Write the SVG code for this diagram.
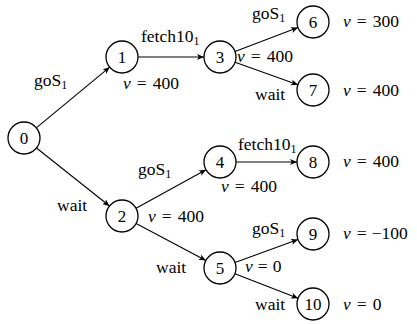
<svg xmlns="http://www.w3.org/2000/svg" width="417" height="324" viewBox="0 0 417 324">
  <style>
    .node circle { fill: #fff; stroke: #000; stroke-width: 1.3; }
    .edges line { stroke: #000; stroke-width: 1.1; marker-end: url(#tip); }
  </style>
  <defs>
    <marker id="tip" markerUnits="userSpaceOnUse" markerWidth="9" markerHeight="8" refX="7" refY="3.5" orient="auto">
      <path d="M0,0.5 L7,3.5 L0,6.5 L1.8,3.5 Z" fill="#000"/>
    </marker>
  </defs>

  <!-- transitions between states -->
  <g class="edges">
    <line x1="36.3" y1="127.8" x2="109.7" y2="67.2"/>
    <line x1="36.5" y1="148.0" x2="109.5" y2="206.0"/>
    <line x1="138" y1="57" x2="204" y2="57"/>
    <line x1="235.0" y1="51.4" x2="298.0" y2="27.6"/>
    <line x1="235.1" y1="62.3" x2="297.9" y2="84.7"/>
    <line x1="136.0" y1="208.3" x2="206.0" y2="169.7"/>
    <line x1="136.1" y1="223.5" x2="205.9" y2="260.5"/>
    <line x1="236" y1="162" x2="297" y2="162"/>
    <line x1="235.0" y1="262.5" x2="298.0" y2="239.5"/>
    <line x1="234.9" y1="273.8" x2="298.1" y2="298.2"/>
  </g>

  <!-- states -->
  <g id="n0" class="node"><circle cx="24" cy="138" r="16"/><text x="24" y="143.5" font-family="Liberation Serif" font-size="17" text-anchor="middle">0</text></g>
  <g id="n1" class="node"><circle cx="122" cy="57" r="16"/><text x="122" y="62.5" font-family="Liberation Serif" font-size="17" text-anchor="middle">1</text></g>
  <g id="n2" class="node"><circle cx="122" cy="216" r="16"/><text x="122" y="221.5" font-family="Liberation Serif" font-size="17" text-anchor="middle">2</text></g>
  <g id="n3" class="node"><circle cx="220" cy="57" r="16"/><text x="220" y="62.5" font-family="Liberation Serif" font-size="17" text-anchor="middle">3</text></g>
  <g id="n4" class="node"><circle cx="220" cy="162" r="16"/><text x="220" y="167.5" font-family="Liberation Serif" font-size="17" text-anchor="middle">4</text></g>
  <g id="n5" class="node"><circle cx="220" cy="268" r="16"/><text x="220" y="273.5" font-family="Liberation Serif" font-size="17" text-anchor="middle">5</text></g>
  <g id="n6" class="node"><circle cx="313" cy="22" r="16"/><text x="313" y="27.5" font-family="Liberation Serif" font-size="17" text-anchor="middle">6</text></g>
  <g id="n7" class="node"><circle cx="313" cy="90" r="16"/><text x="313" y="95.5" font-family="Liberation Serif" font-size="17" text-anchor="middle">7</text></g>
  <g id="n8" class="node"><circle cx="313" cy="162" r="16"/><text x="313" y="167.5" font-family="Liberation Serif" font-size="17" text-anchor="middle">8</text></g>
  <g id="n9" class="node"><circle cx="313" cy="234" r="16"/><text x="313" y="239.5" font-family="Liberation Serif" font-size="17" text-anchor="middle">9</text></g>
  <g id="n10" class="node"><circle cx="313" cy="304" r="16"/><text x="313" y="309.5" font-family="Liberation Serif" font-size="17" text-anchor="middle">10</text></g>

  <!-- action names and values -->
  <g class="labels">
    <text x="34" y="86" font-family="Liberation Serif" font-size="17.5">goS<tspan font-size="12" dy="3">1</tspan></text>
    <text x="141" y="42" font-family="Liberation Serif" font-size="17.5">fetch10<tspan font-size="12" dy="3">1</tspan></text>
    <text x="123" y="89" font-family="Liberation Serif" font-size="17.5"><tspan font-style="italic">v</tspan><tspan dx="6">=</tspan><tspan dx="6">400</tspan></text>
    <text x="252" y="19" font-family="Liberation Serif" font-size="17.5">goS<tspan font-size="12" dy="3">1</tspan></text>
    <text x="343" y="27" font-family="Liberation Serif" font-size="17.5"><tspan font-style="italic">v</tspan><tspan dx="6">=</tspan><tspan dx="6">300</tspan></text>
    <text x="237" y="62" font-family="Liberation Serif" font-size="17.5"><tspan font-style="italic">v</tspan><tspan dx="6">=</tspan><tspan dx="6">400</tspan></text>
    <text x="255" y="100" font-family="Liberation Serif" font-size="17.5">wait</text>
    <text x="343" y="96" font-family="Liberation Serif" font-size="17.5"><tspan font-style="italic">v</tspan><tspan dx="6">=</tspan><tspan dx="6">400</tspan></text>
    <text x="238" y="150" font-family="Liberation Serif" font-size="17.5">fetch10<tspan font-size="12" dy="3">1</tspan></text>
    <text x="343" y="167" font-family="Liberation Serif" font-size="17.5"><tspan font-style="italic">v</tspan><tspan dx="6">=</tspan><tspan dx="6">400</tspan></text>
    <text x="221" y="192" font-family="Liberation Serif" font-size="17.5"><tspan font-style="italic">v</tspan><tspan dx="6">=</tspan><tspan dx="6">400</tspan></text>
    <text x="138" y="175" font-family="Liberation Serif" font-size="17.5">goS<tspan font-size="12" dy="3">1</tspan></text>
    <text x="148" y="222" font-family="Liberation Serif" font-size="17.5"><tspan font-style="italic">v</tspan><tspan dx="6">=</tspan><tspan dx="6">400</tspan></text>
    <text x="57" y="211" font-family="Liberation Serif" font-size="17.5">wait</text>
    <text x="156" y="273" font-family="Liberation Serif" font-size="17.5">wait</text>
    <text x="252" y="234" font-family="Liberation Serif" font-size="17.5">goS<tspan font-size="12" dy="3">1</tspan></text>
    <text x="343" y="239" font-family="Liberation Serif" font-size="17.5"><tspan font-style="italic">v</tspan><tspan dx="6">=</tspan><tspan dx="5">−100</tspan></text>
    <text x="245" y="272" font-family="Liberation Serif" font-size="17.5"><tspan font-style="italic">v</tspan><tspan dx="5">=</tspan><tspan dx="5">0</tspan></text>
    <text x="255" y="310" font-family="Liberation Serif" font-size="17.5">wait</text>
    <text x="343" y="310" font-family="Liberation Serif" font-size="17.5"><tspan font-style="italic">v</tspan><tspan dx="6">=</tspan><tspan dx="6">0</tspan></text>
  </g>
</svg>
